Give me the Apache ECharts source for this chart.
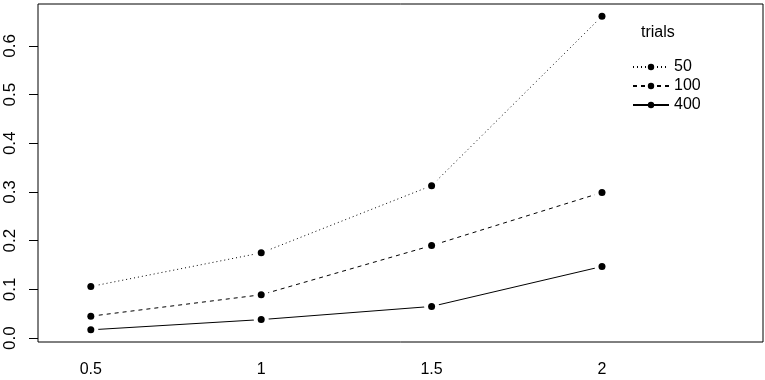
<!DOCTYPE html>
<html>
<head>
<meta charset="utf-8">
<script src="https://cdn.jsdelivr.net/npm/echarts@6/dist/echarts.min.js"></script>
<style>
  html, body { margin: 0; padding: 0; background: #fff; }
  #chart { width: 765px; height: 380px; }
</style>
</head>
<body>
<div id="chart"></div>
<script>
  // x levels (factor) and y ticks
  var categories = ['0.5', '1', '1.5', '2'];
  var yTicks = [0, 0.1, 0.2, 0.3, 0.4, 0.5, 0.6];
  var seriesNames = ['50', '100', '400'];
  // mean response per trials level
  var trials50 = [0.106, 0.175, 0.313, 0.661];
  var trials100 = [0.045, 0.089, 0.190, 0.299];
  var trials400 = [0.017, 0.038, 0.065, 0.147];

  var values = [trials50, trials100, trials400];
  var dashes = [[1, 3], [4, 4], 'solid'];
  var font = 'Liberation Sans, Arial, sans-serif';

  function toPoints(arr) {
    return arr.map(function (v, i) { return [i + 1, v]; });
  }

  var series = [];
  values.forEach(function (arr, k) {
    series.push({
      name: seriesNames[k],
      type: 'line',
      data: toPoints(arr),
      symbol: 'circle',
      symbolSize: 7,
      showSymbol: false,
      silent: true,
      animation: false,
      z: 2,
      itemStyle: { color: '#000' },
      lineStyle: { color: '#000', width: 1, type: dashes[k] }
    });
  });
  // white halo so lines stop short of the points (R type = "b")
  values.forEach(function (arr, k) {
    series.push({
      name: 'gap' + k,
      type: 'scatter',
      data: toPoints(arr),
      symbolSize: 15,
      silent: true,
      animation: false,
      z: 3,
      itemStyle: { color: '#fff', opacity: 1 }
    });
  });
  values.forEach(function (arr, k) {
    series.push({
      name: 'pt' + k,
      type: 'scatter',
      data: toPoints(arr),
      symbolSize: 7,
      silent: true,
      animation: false,
      z: 4,
      itemStyle: { color: '#000', opacity: 1 }
    });
  });

  var chart = echarts.init(document.getElementById('chart'));
  chart.setOption({
    animation: false,
    backgroundColor: '#fff',
    textStyle: { fontFamily: font },
    title: {
      text: 'trials',
      left: 636,
      top: 20,
      textStyle: { fontSize: 16, fontWeight: 'normal', color: '#000', fontFamily: font }
    },
    legend: {
      data: seriesNames,
      orient: 'vertical',
      left: 627,
      top: 54,
      itemWidth: 36,
      itemHeight: 8,
      itemGap: 3,
      textStyle: { fontSize: 16, color: '#000', fontFamily: font },
      selectedMode: false
    },
    grid: {
      left: 38,
      top: 4,
      right: 2,
      bottom: 38,
      show: true,
      borderColor: '#000',
      borderWidth: 1
    },
    xAxis: {
      type: 'value',
      min: 0.69,
      max: 4.945,
      axisLine: { show: false },
      axisTick: { show: false },
      splitLine: { show: false },
      axisLabel: {
        customValues: [1, 2, 3, 4],
        margin: 20,
        fontSize: 16,
        color: '#000',
        formatter: function (v) { return categories[Math.round(v) - 1]; }
      }
    },
    yAxis: {
      type: 'value',
      min: -0.008,
      max: 0.686,
      axisLine: { show: false },
      splitLine: { show: false },
      axisTick: {
        show: true,
        length: 9,
        customValues: yTicks,
        lineStyle: { color: '#000', width: 1 }
      },
      axisLabel: {
        customValues: yTicks,
        rotate: 90,
        margin: 19,
        fontSize: 17,
        color: '#000',
        formatter: function (v) { return v.toFixed(1); }
      }
    },
    series: series
  });
</script>
</body>
</html>
